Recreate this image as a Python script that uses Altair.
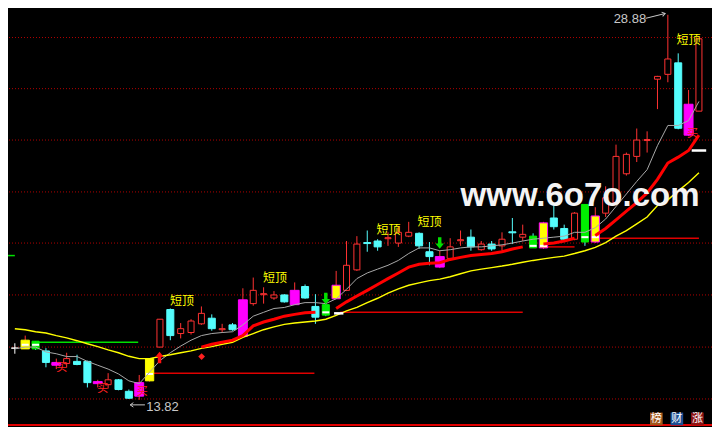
import altair as alt
import pandas as pd

# ---------------- values ----------------
opens  = [15.84,15.81,16.11,15.73,15.28,15.24,15.32,15.32,14.53,14.41,14.60,14.15,14.49,14.56,15.88,17.35,16.41,16.45,16.79,17.01,
          16.56,16.75,17.73,17.58,17.93,17.80,17.92,18.10,18.25,17.47,17.54,17.77,18.10,18.90,19.97,20.03,20.12,19.95,20.22,20.33,
          19.61,19.42,19.35,20.04,20.18,19.69,19.91,19.84,20.39,20.18,20.22,19.76,20.93,20.52,20.10,21.46,19.99,21.12,21.53,22.66,
          23.34,23.96,26.36,26.55,27.00,25.38,25.11]
closes = [15.84,16.15,15.81,15.28,15.17,15.43,15.20,14.49,14.45,14.60,14.22,13.88,13.96,15.43,16.97,16.33,16.60,16.90,17.20,16.60,
          16.60,16.56,16.30,18.10,17.97,17.92,17.65,17.54,17.80,17.05,17.13,18.30,19.08,19.91,19.93,19.80,20.16,20.37,20.37,19.84,
          19.42,19.01,19.80,20.08,19.80,19.91,19.72,20.10,20.35,20.29,19.76,20.74,20.59,20.10,21.12,19.99,21.01,21.72,23.34,23.42,
          23.98,24.00,26.47,27.15,24.44,24.17,27.94]
highs  = [16.03,16.33,16.11,15.84,15.43,15.66,15.58,15.35,14.60,14.86,14.63,14.22,14.79,15.43,16.97,17.39,16.82,16.97,17.47,17.16,
          16.79,16.82,18.18,18.60,18.22,18.07,17.95,18.41,18.33,17.95,17.58,18.86,20.03,20.22,20.44,20.10,20.37,20.59,20.78,20.37,
          19.99,19.65,20.14,20.44,20.48,20.03,20.03,20.37,20.93,20.67,20.33,20.78,21.42,20.67,21.16,21.46,21.35,22.17,23.80,23.49,
          24.43,24.32,26.49,28.88,27.37,25.94,27.94]
lows   = [15.62,15.81,15.77,15.09,15.02,15.09,15.17,14.30,14.30,14.26,14.19,13.85,13.82,14.53,15.88,16.15,16.22,16.37,16.75,16.52,
          16.45,16.52,16.26,17.50,17.58,17.73,17.62,17.54,17.77,16.79,17.09,17.77,18.07,18.86,19.61,19.65,19.84,19.80,20.18,19.72,
          19.08,18.97,19.31,19.84,19.65,19.65,19.65,19.65,19.91,20.03,19.76,19.72,20.48,20.03,20.06,19.84,19.95,20.97,21.50,22.59,
          23.12,23.49,25.19,26.24,24.40,24.13,25.11]
kinds  = ["white","yellow","green","cyan","magenta","red","cyan","cyan","magenta","red","cyan","cyan","magenta","yellow","red",
          "cyan","red","red","red","cyan","red","cyan","magenta","red","red","red","cyan","magenta","cyan","cyan","green","yellow",
          "red","red","cyan","cyan","red","red","red","cyan","cyan","magenta","red","red","cyan","red","cyan","red","cyan","red",
          "green","yellow","cyan","cyan","red","green","yellow","red","red","red","red","red","red","red","cyan","magenta","red"]
outlined = [31, 51, 56]   # yellow candles with a magenta border

gray_ma = [15.81,15.88,15.88,15.69,15.62,15.51,15.51,15.32,15.17,15.02,14.83,14.56,14.45,14.90,15.35,15.66,15.92,16.15,16.33,16.41,
           16.45,16.48,16.75,17.09,17.24,17.39,17.43,17.54,17.62,17.62,17.58,17.77,18.14,18.56,18.78,18.93,19.08,19.27,19.54,19.76,
           19.76,19.65,19.69,19.76,19.80,19.80,19.84,19.88,19.95,20.03,20.10,20.14,20.18,20.22,20.37,20.37,20.55,20.89,21.38,21.87,
           22.36,22.82,23.76,24.55,24.55,24.74,25.49]
yellow_ma = [16.60,16.56,16.48,16.43,16.33,16.24,16.13,16.01,15.90,15.77,15.66,15.52,15.43,15.43,15.51,15.58,15.66,15.73,15.83,15.90,
             15.99,16.07,16.26,16.41,16.56,16.67,16.77,16.82,16.86,16.90,16.97,17.12,17.30,17.43,17.62,17.79,17.99,18.16,18.30,18.39,
             18.48,18.54,18.63,18.75,18.86,18.93,18.99,19.05,19.12,19.20,19.27,19.33,19.39,19.44,19.54,19.65,19.78,19.97,20.22,20.44,
             20.70,20.97,21.42,21.64,21.99,22.32,22.70]

red_seg_starts = [18, 31, 51, 56]
red_seg_values = [
    [15.88,15.99,16.07,16.15,16.33,16.71,16.86,16.97,17.09,17.16,17.22,17.24],
    [17.39,17.65,17.88,18.10,18.33,18.56,18.78,19.01,19.12,19.16,19.18,19.31,19.39,19.46,19.50,19.54,19.61,19.72,19.80],
    [19.91,19.95,20.03,20.14],
    [20.25,20.52,20.86,21.20,21.53,21.91,22.44,23.08,23.31,23.57,24.17],
]

grid_levels = [27.99, 25.99, 23.98, 21.95, 19.95, 17.92, 15.88, 13.85]
bottom_level = [12.83]

hline_x1 = [1.98, 13.2, 31.4, 51.2, 56.2, -0.66]
hline_x2 = [11.9, 28.9, 49.0, 54.0, 66.0, 0.0]
hline_y = [16.07, 14.86, 17.24, 19.80, 20.14, 19.46]
hline_kind = ["green", "red", "red", "red", "red", "green"]

dash_x1 = [30.8, 65.3]
dash_x2 = [31.7, 66.7]
dash_y = [17.20, 23.57]

stripe_idx = [1, 2, 13, 30, 50, 51, 55, 56]
stripe_y = [15.97, 15.97, 14.83, 17.24, 19.84, 19.84, 20.18, 20.18]

top_idx = [16.13, 25.09, 36.04, 40.0, 65.0]
top_y = [17.69, 18.60, 20.48, 20.78, 27.90]
buy_idx = [4.53, 8.49, 12.3, 65.38]
buy_y = [15.05, 14.26, 14.12, 24.21]

up_arrow_idx, up_arrow_y = [13.96], [15.47]
down_arrow_idx, down_arrow_y = [30.0, 40.99], [17.78, 19.95]
diamond_idx, diamond_y = [18.02], [15.51]

hi_label = "28.88"; hi_idx = [59.34]; hi_y = [28.71]
lo_label = "13.82"; lo_idx = [14.25]; lo_y = [13.55]

icon_text = ["榜", "财", "涨"]
icon_idx = [61.89, 63.87, 65.85]
icon_y = [13.07, 13.07, 13.07]
icon_fill = ["#a3561a", "#1c4f94", "#8e1414"]

watermark = "www.6o7o.com"
wm_idx, wm_y = [43.0], [21.38]

# ---------------- styling ----------------
FILL = {"red": "#000000", "cyan": "#54fcfc", "magenta": "#ff00ff", "yellow": "#ffff00", "green": "#00f000", "white": "#ffffff"}
STROKE = {"red": "#ff3232", "cyan": "#54fcfc", "magenta": "#ff00ff", "yellow": "#ffff00", "green": "#00f000", "white": "#ffffff"}
WICK = {"red": "#ff3232", "magenta": "#ff3232", "yellow": "#ff3232", "cyan": "#54fcfc", "green": "#54fcfc", "white": "#ffffff"}
HALF = {"red": 0.29, "cyan": 0.34, "magenta": 0.43, "yellow": 0.40, "green": 0.34, "white": 0.34}

n = len(opens)
cdf = pd.DataFrame({"i": list(range(n)), "o": opens, "c": closes, "h": highs, "l": lows, "k": kinds})
cdf["xl"] = cdf["i"] - cdf["k"].map(HALF)
cdf["xr"] = cdf["i"] + cdf["k"].map(HALF)
cdf["fill"] = cdf["k"].map(FILL)
cdf["stroke"] = [("#ff00ff" if i in outlined else STROKE[k]) for i, k in zip(cdf["i"], cdf["k"])]
cdf["wick"] = cdf["k"].map(WICK)

X = alt.Scale(domain=[-0.66, 67.26], nice=False, zero=False)
Y = alt.Scale(domain=[12.754, 29.145], nice=False, zero=False)

def xq(f):
    return alt.X(f, type="quantitative", scale=X, axis=None)

def yq(f):
    return alt.Y(f, type="quantitative", scale=Y, axis=None)

grid = alt.Chart(pd.DataFrame({"y": grid_levels})).mark_rule(
    color="#b00000", strokeDash=[1, 2], strokeWidth=1).encode(y=yq("y"))
bottom = alt.Chart(pd.DataFrame({"y": bottom_level})).mark_rule(
    color="#e00000", strokeWidth=2).encode(y=yq("y"))

hdf = pd.DataFrame({"x1": hline_x1, "x2": hline_x2, "y": hline_y,
                    "col": [("#00e000" if k == "green" else "#e00000") for k in hline_kind]})
hlines = alt.Chart(hdf).mark_rule(strokeWidth=1.5).encode(
    x=xq("x1"), x2="x2", y=yq("y"), color=alt.Color("col:N", scale=None))

ddf = pd.DataFrame({"x1": dash_x1, "x2": dash_x2, "y": dash_y})
dashes = alt.Chart(ddf).mark_rule(strokeWidth=2.5, color="#ffffff").encode(x=xq("x1"), x2="x2", y=yq("y"))

wicks = alt.Chart(cdf).mark_rule(strokeWidth=1).encode(
    x=xq("i"), y=yq("l"), y2="h", color=alt.Color("wick:N", scale=None))
bodies = alt.Chart(cdf).mark_rect(strokeWidth=1).encode(
    x=xq("xl"), x2="xr", y=yq("o"), y2="c",
    fill=alt.Fill("fill:N", scale=None), stroke=alt.Stroke("stroke:N", scale=None))

sdf = pd.DataFrame({"i": stripe_idx, "y": stripe_y})
sdf["xl"] = sdf["i"] - 0.34
sdf["xr"] = sdf["i"] + 0.34
sdf["y1"] = sdf["y"] - 0.04
sdf["y2"] = sdf["y"] + 0.04
stripes = alt.Chart(sdf).mark_rect(color="#ffffff").encode(x=xq("xl"), x2="xr", y=yq("y1"), y2="y2")

gdf = pd.DataFrame({"i": list(range(n)), "v": gray_ma})
gray = alt.Chart(gdf).mark_line(color="#a8a8a8", strokeWidth=1).encode(x=xq("i"), y=yq("v"))
ydf = pd.DataFrame({"i": list(range(n)), "v": yellow_ma})
yellow = alt.Chart(ydf).mark_line(color="#ffff00", strokeWidth=1.4).encode(x=xq("i"), y=yq("v"))

rows = []
for s, (st, vals) in enumerate(zip(red_seg_starts, red_seg_values)):
    for j, v in enumerate(vals):
        rows.append({"seg": s, "i": st + j, "v": v})
rdf = pd.DataFrame(rows)
red = alt.Chart(rdf).mark_line(color="#ff0000", strokeWidth=3).encode(
    x=xq("i"), y=yq("v"), detail="seg:N")

tops = alt.Chart(pd.DataFrame({"i": top_idx, "y": top_y, "t": ["短顶"] * len(top_idx)})).mark_text(
    font="Noto Sans CJK SC", fontSize=12, color="#ffff00").encode(x=xq("i"), y=yq("y"), text="t:N")
buys = alt.Chart(pd.DataFrame({"i": buy_idx, "y": buy_y, "t": ["买"] * len(buy_idx)})).mark_text(
    font="Noto Sans CJK SC", fontSize=11, color="#ff2020").encode(x=xq("i"), y=yq("y"), text="t:N")

UP = "M0,-1 L0.75,-0.1 L0.3,-0.1 L0.3,1 L-0.3,1 L-0.3,-0.1 L-0.75,-0.1 Z"
DOWN = "M-0.3,-1 L0.3,-1 L0.3,0.1 L0.75,0.1 L0,1 L-0.75,0.1 L-0.3,0.1 Z"
up_arrows = alt.Chart(pd.DataFrame({"i": up_arrow_idx, "y": up_arrow_y})).mark_point(
    shape=UP, size=130, filled=True, color="#ff1010", opacity=1).encode(x=xq("i"), y=yq("y"))
down_arrows = alt.Chart(pd.DataFrame({"i": down_arrow_idx, "y": down_arrow_y})).mark_point(
    shape=DOWN, size=130, filled=True, color="#00e000", opacity=1).encode(x=xq("i"), y=yq("y"))
diamond = alt.Chart(pd.DataFrame({"i": diamond_idx, "y": diamond_y})).mark_point(
    shape="diamond", size=45, filled=True, color="#ff2020", opacity=1).encode(x=xq("i"), y=yq("y"))

hi_txt = alt.Chart(pd.DataFrame({"i": hi_idx, "y": hi_y, "t": [hi_label]})).mark_text(
    font="Liberation Sans", fontSize=13, color="#c8c8c8").encode(x=xq("i"), y=yq("y"), text="t:N")
lo_txt = alt.Chart(pd.DataFrame({"i": lo_idx, "y": lo_y, "t": [lo_label]})).mark_text(
    font="Liberation Sans", fontSize=13, color="#c8c8c8").encode(x=xq("i"), y=yq("y"), text="t:N")

adf = pd.DataFrame({"x1": [60.85, 11.13], "x2": [62.74, 12.55], "y1": [28.74, 13.62], "y2": [28.93, 13.62]})
arrow_lines = alt.Chart(adf).mark_rule(color="#c8c8c8", strokeWidth=1).encode(
    x=xq("x1"), x2="x2", y=yq("y1"), y2="y2")
hdf2 = pd.DataFrame({"i": [62.74], "y": [28.93]})
head_r = alt.Chart(hdf2).mark_point(shape="M-1,-0.7 L0,0 L-1,0.7", size=40, filled=False,
                                     color="#c8c8c8", strokeWidth=1, angle=346, opacity=1).encode(x=xq("i"), y=yq("y"))
ldf2 = pd.DataFrame({"i": [11.13], "y": [13.62]})
head_l = alt.Chart(ldf2).mark_point(shape="M1,-0.7 L0,0 L1,0.7", size=40, filled=False,
                                     color="#c8c8c8", strokeWidth=1, opacity=1).encode(x=xq("i"), y=yq("y"))

wm = alt.Chart(pd.DataFrame({"i": wm_idx, "y": wm_y, "t": [watermark]})).mark_text(
    font="Liberation Sans", fontWeight="bold", fontSize=33, color="#f4f4f4",
    align="left", baseline="alphabetic").encode(x=xq("i"), y=yq("y"), text="t:N")

idf = pd.DataFrame({"i": icon_idx, "y": icon_y, "t": icon_text, "f": icon_fill})
icons_bg = alt.Chart(idf).mark_square(size=160, opacity=1).encode(
    x=xq("i"), y=yq("y"), color=alt.Color("f:N", scale=None))
icons_tx = alt.Chart(idf).mark_text(font="Noto Sans CJK SC", fontSize=11, color="#ffffff").encode(
    x=xq("i"), y=yq("y"), text="t:N")

chart = alt.layer(
    grid, bottom, hlines, wicks, bodies, stripes, gray, yellow, red, dashes,
    tops, buys, up_arrows, down_arrows, diamond, hi_txt, lo_txt, arrow_lines, head_r, head_l,
    wm, icons_bg, icons_tx
).properties(
    width=704, height=419, background="#000000", padding=0, autosize="none"
).configure_view(strokeWidth=0)

chart.save("out.html", embed_options={"renderer": "svg", "actions": False})
